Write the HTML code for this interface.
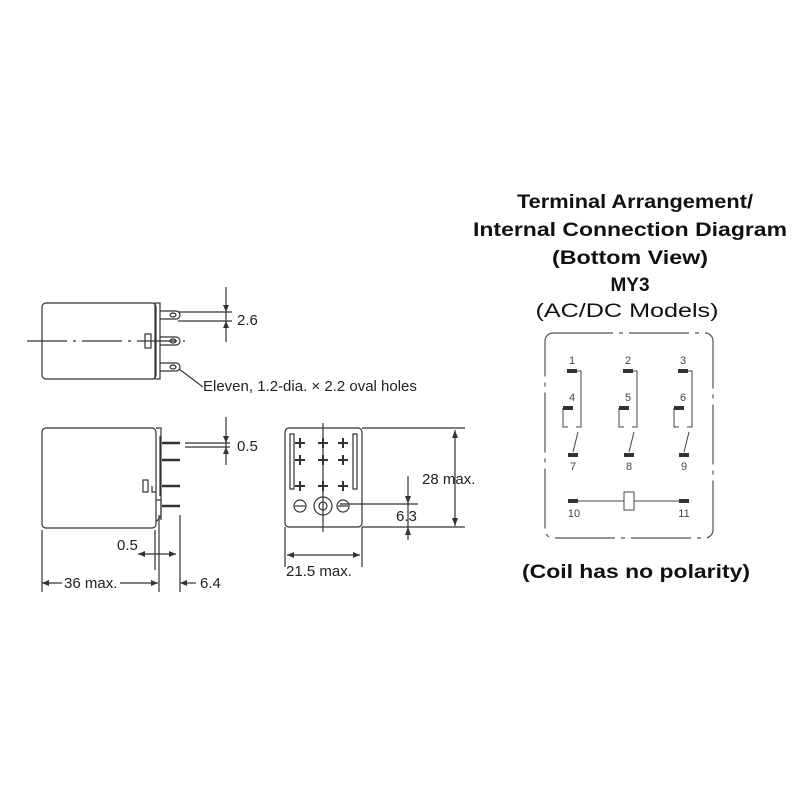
<!DOCTYPE html>
<html><head><style>html,body{margin:0;padding:0;background:#fff}</style></head><body>
<svg width="800" height="800" viewBox="0 0 800 800" xmlns="http://www.w3.org/2000/svg" font-family="Liberation Sans, sans-serif">
<rect width="800" height="800" fill="#fff"/>
<g stroke="#333" stroke-width="1.2" fill="none">
<rect x="42" y="303" width="114" height="76" rx="4"/>
<rect x="155" y="303" width="5" height="76"/>
<rect x="145" y="334" width="6" height="14"/>
<line x1="27" y1="341" x2="185" y2="341" stroke-dasharray="40,6,3,6"/>
<path d="M160 311 h16 a4 4 0 0 1 0 8 h-16 M160 337 h16 a4 4 0 0 1 0 8 h-16 M160 363 h16 a4 4 0 0 1 0 8 h-16"/>
<ellipse cx="173" cy="315" rx="3" ry="2"/><ellipse cx="173" cy="341" rx="3" ry="2"/><ellipse cx="173" cy="367" rx="3" ry="2"/>
<line x1="178" y1="312" x2="232" y2="312"/><line x1="178" y1="321" x2="232" y2="321"/>
<line x1="226" y1="287" x2="226" y2="342"/>
<line x1="179" y1="369" x2="203" y2="387"/>
<rect x="42" y="428" width="114" height="100" rx="4"/>
<path d="M156 428 h5 v88 l-5 6 M156 492 h-4 v-6"/>
<rect x="143" y="480" width="5" height="12"/>
<path d="M160 436 v60 M156 500 h5 v20"/>
<g stroke-width="2.5"><line x1="162" y1="443" x2="180" y2="443"/><line x1="162" y1="460" x2="180" y2="460"/><line x1="162" y1="486" x2="180" y2="486"/><line x1="162" y1="506" x2="180" y2="506"/></g>
<line x1="185" y1="443" x2="230" y2="443"/><line x1="185" y1="447" x2="230" y2="447"/>
<line x1="226" y1="417" x2="226" y2="465"/>
<line x1="42" y1="530" x2="42" y2="592"/>
<line x1="159" y1="515" x2="159" y2="592"/>
<line x1="180" y1="515" x2="180" y2="592"/>
<line x1="155" y1="530" x2="155" y2="570"/>
<line x1="138" y1="554" x2="176" y2="554"/>
<line x1="42" y1="583" x2="62" y2="583"/><line x1="120" y1="583" x2="158" y2="583"/>
<line x1="180" y1="583" x2="196" y2="583"/>
<rect x="285" y="428" width="77" height="99" rx="4"/>
<path d="M290 434 v55 h4 v-55 z M357 434 v55 h-4 v-55 z"/>
<line x1="323" y1="423" x2="323" y2="532"/>
<circle cx="300" cy="506" r="6"/><circle cx="323" cy="506" r="9"/><circle cx="323" cy="506" r="4"/><circle cx="343" cy="506" r="6"/>
<line x1="295" y1="506" x2="305" y2="506"/><line x1="338" y1="506" x2="348" y2="506"/>
<line x1="362" y1="428" x2="465" y2="428"/><line x1="362" y1="527" x2="465" y2="527"/>
<line x1="455" y1="430" x2="455" y2="526"/>
<line x1="340" y1="504" x2="418" y2="504"/>
<line x1="408" y1="476" x2="408" y2="540"/>
<line x1="285" y1="527" x2="285" y2="567"/><line x1="362" y1="527" x2="362" y2="567"/>
<line x1="287" y1="555" x2="360" y2="555"/>
</g>
<g stroke="#333" stroke-width="2">
<path d="M295 443h10M300 438v10M318 443h10M323 438v10M338 443h10M343 438v10"/>
<path d="M295 460h10M300 455v10M318 460h10M323 455v10M338 460h10M343 455v10"/>
<path d="M295 486h10M300 481v10M318 486h10M323 481v10M338 486h10M343 481v10"/>
</g>
<g fill="#333">
<path d="M226 312 l-3 -7 h6z M226 321 l-3 7 h6z"/>
<path d="M226 443 l-3 -7 h6z M226 447 l-3 7 h6z"/>
<path d="M42 583 l7 -3 v6z M158 583 l-7 -3 v6z M180 583 l7 -3 v6z"/>
<path d="M138 554 l7 -3 v6z M176 554 l-7 -3 v6z"/>
<path d="M455 430 l-3 8 h6z M455 526 l-3 -8 h6z"/>
<path d="M408 504 l-3 -8 h6z M408 527 l-3 8 h6z"/>
<path d="M287 555 l7 -3 v6z M360 555 l-7 -3 v6z"/>
</g>
<g font-size="15" fill="#222">
<text x="237" y="325">2.6</text>
<text x="203" y="391">Eleven, 1.2-dia. × 2.2 oval holes</text>
<text x="237" y="451">0.5</text>
<text x="117" y="550">0.5</text>
<text x="64" y="588">36 max.</text>
<text x="200" y="588">6.4</text>
<text x="422" y="484">28 max.</text>
<text x="396" y="521">6.3</text>
<text x="286" y="576">21.5 max.</text>
</g>
<g font-size="19" font-weight="bold" fill="#111" text-anchor="middle" lengthAdjust="spacingAndGlyphs">
<text x="635" y="208" textLength="236" lengthAdjust="spacingAndGlyphs">Terminal Arrangement/</text>
<text x="630" y="236" textLength="314" lengthAdjust="spacingAndGlyphs">Internal Connection Diagram</text>
<text x="630" y="264" textLength="156" lengthAdjust="spacingAndGlyphs">(Bottom View)</text>
<text x="630" y="291">MY3</text>
<text x="627" y="317" font-weight="normal" textLength="183" lengthAdjust="spacingAndGlyphs">(AC/DC Models)</text>
<text x="636" y="578" textLength="228" lengthAdjust="spacingAndGlyphs">(Coil has no polarity)</text>
</g>
<rect x="545" y="333" width="168" height="205" rx="8" fill="none" stroke="#555" stroke-width="1.2" stroke-dasharray="60,6,4,6"/>
<g stroke="#444" stroke-width="1" fill="none">
<path d="M573 371 h8 v56 h-5 M563 408 v19 h5"/><line x1="573" y1="452" x2="578" y2="432"/>
<path d="M629 371 h8 v56 h-5 M619 408 v19 h5"/><line x1="629" y1="452" x2="634" y2="432"/>
<path d="M684 371 h8 v56 h-5 M674 408 v19 h5"/><line x1="684" y1="452" x2="689" y2="432"/>
<line x1="573" y1="501" x2="684" y2="501"/>
<rect x="624" y="492" width="10" height="18" fill="#fff"/>
</g>
<g stroke="#333" stroke-width="4">
<path d="M567 371h10M623 371h10M678 371h10M563 408h10M619 408h10M674 408h10M568 455h10M624 455h10M679 455h10M568 501h10M679 501h10"/>
</g>
<g font-size="11" fill="#444" text-anchor="middle">
<text x="572" y="364">1</text><text x="628" y="364">2</text><text x="683" y="364">3</text>
<text x="572" y="401">4</text><text x="628" y="401">5</text><text x="683" y="401">6</text>
<text x="573" y="470">7</text><text x="629" y="470">8</text><text x="684" y="470">9</text>
<text x="574" y="517">10</text><text x="684" y="517">11</text>
</g>
</svg>
</body></html>
